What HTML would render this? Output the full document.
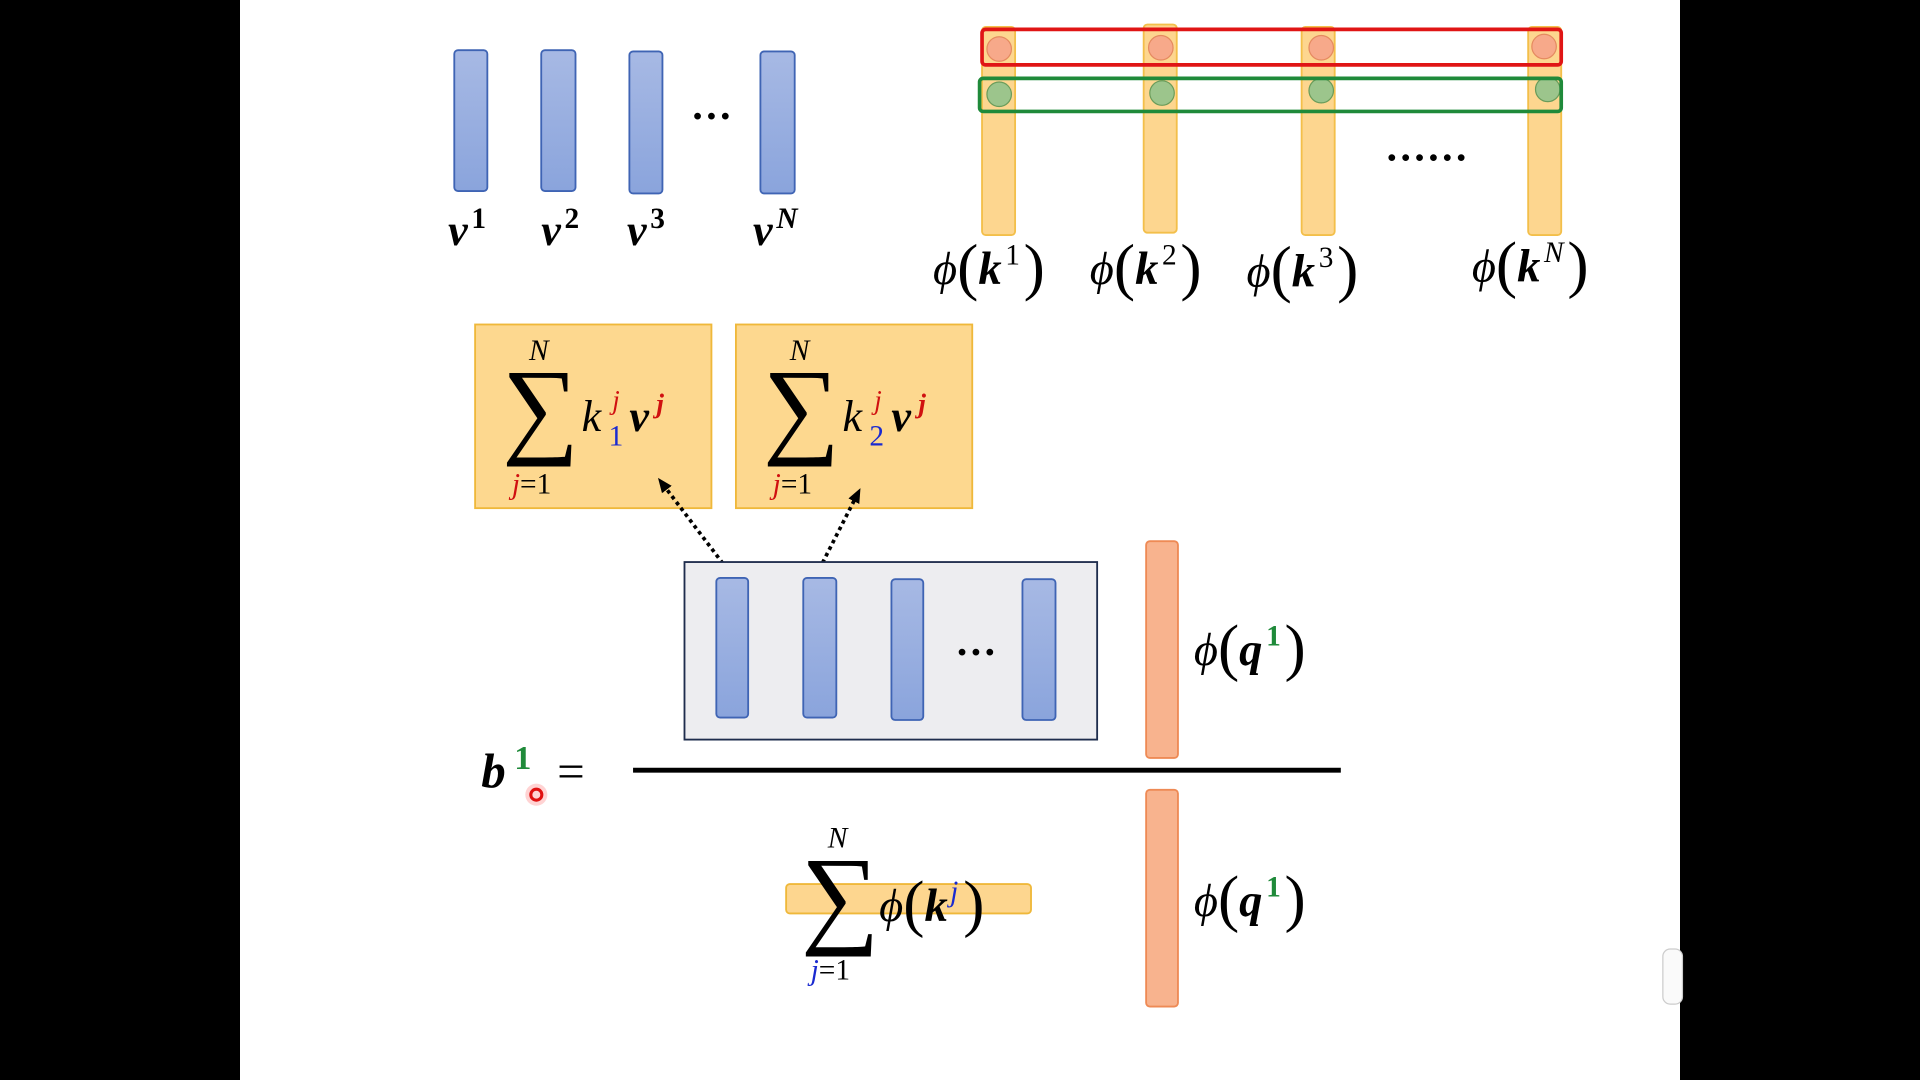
<!DOCTYPE html>
<html><head><meta charset="utf-8"><style>
html,body{margin:0;padding:0;background:#000;width:1920px;height:1080px;overflow:hidden}
svg{display:block}
text{font-family:"Liberation Serif",serif}
</style></head><body>
<svg width="1920" height="1080" viewBox="0 0 1568 882" preserveAspectRatio="none" xmlns="http://www.w3.org/2000/svg">
<defs>
<linearGradient id="bl" x1="0" x2="0" y1="0" y2="1"><stop offset="0" stop-color="#a7b9e4"/><stop offset="1" stop-color="#8aa4dc"/></linearGradient>
<marker id="ah" markerUnits="userSpaceOnUse" markerWidth="12" markerHeight="12" refX="6" refY="6" orient="auto"><path d="M0,1 L12,6 L0,11 z" fill="#000"/></marker>
</defs>
<rect x="0" y="0" width="1568" height="882" fill="#000"/>
<rect x="196" y="0" width="1176" height="882" fill="#fff"/>
<rect x="1358" y="775" width="16" height="45" rx="6" fill="#fafafa" stroke="#ccc"/>

<g fill="url(#bl)" stroke="#3f64b4" stroke-width="1.5">
<rect x="371" y="41" width="27" height="115" rx="3"/>
<rect x="442" y="41" width="28" height="115" rx="3"/>
<rect x="514" y="42" width="27" height="116" rx="3"/>
<rect x="621" y="42" width="28" height="116" rx="3"/>
</g>
<text x="564" y="106" font-size="34" font-weight="bold">···</text>
<g font-size="36" font-weight="bold" font-style="italic">
<text x="366" y="200">v<tspan font-size="24" dx="3" dy="-14" font-style="normal">1</tspan></text>
<text x="442" y="200">v<tspan font-size="24" dx="3" dy="-14" font-style="normal">2</tspan></text>
<text x="512" y="200">v<tspan font-size="24" dx="3" dy="-14" font-style="normal">3</tspan></text>
<text x="615" y="200">v<tspan font-size="24" dx="3" dy="-14">N</tspan></text>
</g>

<g fill="#fdd68f" stroke="#f3bf4a" stroke-width="1.5">
<rect x="802" y="22" width="27" height="170" rx="3"/>
<rect x="934" y="20" width="27" height="170" rx="3"/>
<rect x="1063" y="22" width="27" height="170" rx="3"/>
<rect x="1248" y="22" width="27" height="170" rx="3"/>
</g>
<g fill="#f7a98a" stroke="#e58a60" stroke-width="1">
<circle cx="816" cy="40" r="10"/><circle cx="948" cy="39" r="10"/><circle cx="1079" cy="39" r="10"/><circle cx="1261" cy="38" r="10"/>
</g>
<g fill="#9cc58c" stroke="#6a9c5a" stroke-width="1">
<circle cx="816" cy="77" r="10"/><circle cx="949" cy="76" r="10"/><circle cx="1079" cy="74" r="10"/><circle cx="1264" cy="73" r="10"/>
</g>
<rect x="802" y="24" width="473" height="29" rx="3" fill="none" stroke="#e01515" stroke-width="3"/>
<rect x="800" y="64" width="475" height="27" rx="3" fill="none" stroke="#1f8a3a" stroke-width="3"/>
<text x="1131" y="140" font-size="34" font-weight="bold">······</text>

<g font-size="38">
<text x="762" y="232"><tspan font-style="italic">ϕ</tspan><tspan font-size="52" dy="3">(</tspan><tspan font-weight="bold" font-style="italic" dy="-3">k</tspan><tspan font-size="24" dx="3" dy="-16">1</tspan><tspan font-size="52" dx="3" dy="19">)</tspan></text>
<text x="890" y="232"><tspan font-style="italic">ϕ</tspan><tspan font-size="52" dy="3">(</tspan><tspan font-weight="bold" font-style="italic" dy="-3">k</tspan><tspan font-size="24" dx="3" dy="-16">2</tspan><tspan font-size="52" dx="3" dy="19">)</tspan></text>
<text x="1018" y="234"><tspan font-style="italic">ϕ</tspan><tspan font-size="52" dy="3">(</tspan><tspan font-weight="bold" font-style="italic" dy="-3">k</tspan><tspan font-size="24" dx="3" dy="-16">3</tspan><tspan font-size="52" dx="3" dy="19">)</tspan></text>
<text x="1202" y="230"><tspan font-style="italic">ϕ</tspan><tspan font-size="52" dy="3">(</tspan><tspan font-weight="bold" font-style="italic" dy="-3">k</tspan><tspan font-size="24" dx="3" dy="-16" font-style="italic">N</tspan><tspan font-size="52" dx="3" dy="19">)</tspan></text>
</g>

<g fill="#fdd88f" stroke="#efb83a" stroke-width="1.5">
<rect x="388" y="265" width="193" height="150"/>
<rect x="601" y="265" width="193" height="150"/>
</g>
<g>
<text x="432" y="294" font-size="24" font-style="italic">N</text>
<text x="410" y="362" font-size="88">∑</text>
<text x="418" y="403" font-size="24"><tspan fill="#d01010" font-style="italic">j</tspan>=1</text>
<text x="475" y="352" font-size="36" font-style="italic">k</text>
<text x="500" y="334" font-size="22" font-style="italic" fill="#d01010">j</text>
<text x="497" y="364" font-size="24" fill="#1a2ad0">1</text>
<text x="514" y="352" font-size="36" font-style="italic" font-weight="bold">v</text>
<text x="536" y="337" font-size="22" font-style="italic" font-weight="bold" fill="#d01010">j</text>

<text x="645" y="294" font-size="24" font-style="italic">N</text>
<text x="623" y="362" font-size="88">∑</text>
<text x="631" y="403" font-size="24"><tspan fill="#d01010" font-style="italic">j</tspan>=1</text>
<text x="688" y="352" font-size="36" font-style="italic">k</text>
<text x="714" y="334" font-size="22" font-style="italic" fill="#d01010">j</text>
<text x="710" y="364" font-size="24" fill="#1a2ad0">2</text>
<text x="728" y="352" font-size="36" font-style="italic" font-weight="bold">v</text>
<text x="750" y="337" font-size="22" font-style="italic" font-weight="bold" fill="#d01010">j</text>
</g>

<line x1="594" y1="465" x2="541" y2="395" stroke="#000" stroke-width="3" stroke-dasharray="3,3" marker-end="url(#ah)"/>
<line x1="669" y1="465" x2="700" y2="404" stroke="#000" stroke-width="3" stroke-dasharray="3,3" marker-end="url(#ah)"/>

<rect x="559" y="459" width="337" height="145" fill="#ededf0" stroke="#1f2d4d" stroke-width="1.5"/>
<g fill="url(#bl)" stroke="#3f64b4" stroke-width="1.5">
<rect x="585" y="472" width="26" height="114" rx="3"/>
<rect x="656" y="472" width="27" height="114" rx="3"/>
<rect x="728" y="473" width="26" height="115" rx="3"/>
<rect x="835" y="473" width="27" height="115" rx="3"/>
</g>
<text x="780" y="544" font-size="34" font-weight="bold">···</text>

<g fill="#f8b38e" stroke="#ee8a55" stroke-width="1.5">
<rect x="936" y="442" width="26" height="177" rx="3"/>
<rect x="936" y="645" width="26" height="177" rx="3"/>
</g>
<g font-size="38">
<text x="975" y="543"><tspan font-style="italic">ϕ</tspan><tspan font-size="52" dy="3">(</tspan><tspan font-weight="bold" font-style="italic" dy="-3">q</tspan><tspan font-size="24" dx="3" dy="-16" font-weight="bold" fill="#1f8a3a">1</tspan><tspan font-size="52" dx="3" dy="19">)</tspan></text>
<text x="975" y="748"><tspan font-style="italic">ϕ</tspan><tspan font-size="52" dy="3">(</tspan><tspan font-weight="bold" font-style="italic" dy="-3">q</tspan><tspan font-size="24" dx="3" dy="-16" font-weight="bold" fill="#1f8a3a">1</tspan><tspan font-size="52" dx="3" dy="19">)</tspan></text>
</g>

<rect x="517" y="627" width="578" height="4" fill="#000"/>
<text x="393" y="643" font-size="40" font-weight="bold" font-style="italic">b</text>
<text x="420" y="628" font-size="28" font-weight="bold" fill="#1f8a3a">1</text>
<text x="455" y="643" font-size="40">=</text>
<circle cx="438" cy="649" r="9" fill="#ff5050" opacity="0.25"/>
<circle cx="438" cy="649" r="4.5" fill="none" stroke="#e01010" stroke-width="2.5"/>

<rect x="642" y="722" width="200" height="24" rx="3" fill="#fdd68f" stroke="#efb83a" stroke-width="1.5"/>
<text x="676" y="692" font-size="24" font-style="italic">N</text>
<text x="654" y="762" font-size="90">∑</text>
<text x="662" y="800" font-size="24"><tspan fill="#1a2ad0" font-style="italic">j</tspan>=1</text>
<text x="718" y="752" font-size="38"><tspan font-style="italic">ϕ</tspan><tspan font-size="52" dy="3">(</tspan><tspan font-weight="bold" font-style="italic" dy="-3">k</tspan><tspan font-size="24" dx="2" dy="-16" fill="#1a2ad0" font-style="italic">j</tspan><tspan font-size="52" dx="4" dy="19">)</tspan></text>
</svg>
</body></html>
